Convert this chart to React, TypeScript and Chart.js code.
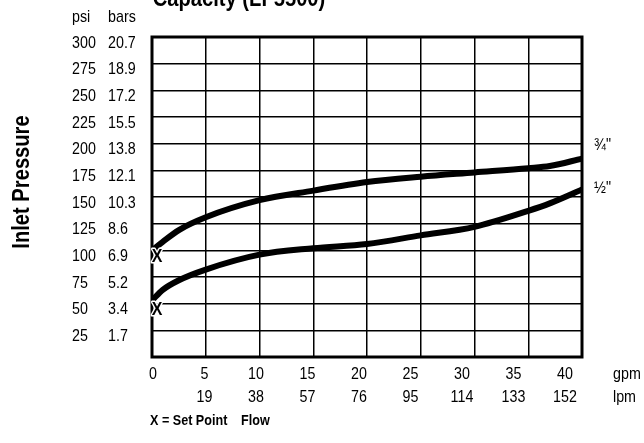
import React, { useEffect, useRef } from "react";
import { Chart, registerables } from "chart.js";

Chart.register(...registerables);

const gpmTicks = [0, 5, 10, 15, 20, 25, 30, 35, 40];
const lpmTicks = ["", "19", "38", "57", "76", "95", "114", "133", "152"];
const psiTicks = [300, 275, 250, 225, 200, 175, 150, 125, 100, 75, 50, 25];
const barTicks = ["20.7", "18.9", "17.2", "15.5", "13.8", "12.1", "10.3", "8.6", "6.9", "5.2", "3.4", "1.7"];

const threeQuarterFlow = [0, 1, 2.5, 5, 10, 15, 20, 25, 30, 35, 37, 40];
const threeQuarterPsi = [100, 108, 119, 131, 147, 156, 164, 169, 173, 177, 179, 186];
const halfFlow = [0, 1, 2.5, 5, 10, 15, 20, 25, 30, 35, 37, 40];
const halfPsi = [53, 63, 72, 82, 96, 102, 106, 114, 122, 137, 144, 157];

const setPointPsi = [100, 50];
const seriesLabels = ["¾\"", "½\""];

const FONT = "'Liberation Sans', Arial, sans-serif";
const SX = 0.84;

function ctext(ctx: CanvasRenderingContext2D, s: string, x: number, y: number, align: CanvasTextAlign, stroke = false) {
  ctx.save();
  ctx.translate(x, y);
  ctx.scale(SX, 1);
  ctx.textAlign = align;
  if (stroke) ctx.strokeText(s, 0, 0);
  ctx.fillText(s, 0, 0);
  ctx.restore();
}

export default function App() {
  const ref = useRef<HTMLCanvasElement | null>(null);

  useEffect(() => {
    if (!ref.current) return;
    const textPlugin = {
      id: "decor",
      afterDraw(chart: any) {
        const ctx: CanvasRenderingContext2D = chart.ctx;
        const xs = chart.scales.x;
        const ys = chart.scales.y;
        const area = chart.chartArea;
        ctx.save();
        // frame
        ctx.strokeStyle = "#000";
        ctx.lineWidth = 3;
        ctx.strokeRect(area.left, area.top, area.right - area.left, area.bottom - area.top);

        ctx.fillStyle = "#000";
        ctx.textBaseline = "middle";
        ctx.font = `17px ${FONT}`;
        // y labels
        psiTicks.forEach((v, i) => {
          const y = ys.getPixelForValue(v) + 6;
          ctext(ctx, String(v), 72, y, "left");
          ctext(ctx, barTicks[i], 108, y, "left");
        });
        ctext(ctx, "psi", 72, 17, "left");
        ctext(ctx, "bars", 108, 17, "left");

        // x labels
        const labelScale = 0.958;
        gpmTicks.forEach((g, i) => {
          const px = area.left + 1 + (xs.getPixelForValue(g) - area.left) * labelScale;
          ctext(ctx, String(g), px, 374, "center");
          ctext(ctx, lpmTicks[i], px, 397, "center");
        });
        ctext(ctx, "gpm", 613, 374, "left");
        ctext(ctx, "lpm", 613, 397, "left");

        // series labels
        const lastU = ys.getPixelForValue(threeQuarterPsi[threeQuarterPsi.length - 1]);
        const lastL = ys.getPixelForValue(halfPsi[halfPsi.length - 1]);
        ctext(ctx, seriesLabels[0], 594, lastU - 13, "left");
        ctext(ctx, seriesLabels[1], 594, lastL - 1, "left");

        // set point X marks
        ctx.font = `bold 19px ${FONT}`;
        ctx.lineWidth = 3;
        ctx.strokeStyle = "#fff";
        ctx.lineJoin = "round";
        setPointPsi.forEach((v) => {
          const x = xs.getPixelForValue(0) + 5;
          const y = ys.getPixelForValue(v) + 6;
          ctext(ctx, "X", x, y, "center", true);
        });

        // axis title
        ctx.save();
        ctx.translate(22, 182);
        ctx.rotate(-Math.PI / 2);
        ctx.font = `bold 24px ${FONT}`;
        ctext(ctx, "Inlet Pressure", 0, 0, "center");
        ctx.restore();

        // title (cropped at top)
        ctx.font = `bold 24px ${FONT}`;
        ctx.textBaseline = "alphabetic";
        ctext(ctx, "Capacity (LF5500)", 239, 6, "center");

        // footer
        ctx.textBaseline = "middle";
        ctx.font = `bold 15px ${FONT}`;
        ctext(ctx, "X = Set Point", 150, 421, "left");
        ctext(ctx, "Flow", 241, 421, "left");
        ctx.restore();
      },
    };

    const chart = new Chart(ref.current, {
      type: "line",
      data: {
        datasets: [
          {
            label: seriesLabels[0],
            data: threeQuarterFlow.map((x, i) => ({ x, y: threeQuarterPsi[i] })),
            borderColor: "#000",
            borderWidth: 6,
            pointRadius: 0,
            cubicInterpolationMode: "monotone",
            fill: false,
          },
          {
            label: seriesLabels[1],
            data: halfFlow.map((x, i) => ({ x, y: halfPsi[i] })),
            borderColor: "#000",
            borderWidth: 6,
            pointRadius: 0,
            cubicInterpolationMode: "monotone",
            fill: false,
          },
        ],
      },
      options: {
        animation: false,
        responsive: false,
        events: [],
        layout: { padding: { left: 152, right: 62, top: 37, bottom: 86 } },
        plugins: { legend: { display: false }, tooltip: { enabled: false }, title: { display: false } },
        scales: {
          x: {
            type: "linear",
            min: 0,
            max: 40,
            ticks: { display: false, stepSize: 5 },
            grid: { color: "#000", lineWidth: 1.5, drawTicks: false },
            border: { display: false },
          },
          y: {
            type: "linear",
            min: 0,
            max: 300,
            ticks: { display: false, stepSize: 25 },
            grid: { color: "#000", lineWidth: 1.5, drawTicks: false },
            border: { display: false },
          },
        },
      },
      plugins: [textPlugin],
    });
    return () => chart.destroy();
  }, []);

  return (
    <div style={{ position: "absolute", left: 0, top: 0, width: 644, height: 443, background: "#fff" }}>
      <canvas ref={ref} width={644} height={443} style={{ width: 644, height: 443 }} />
    </div>
  );
}
